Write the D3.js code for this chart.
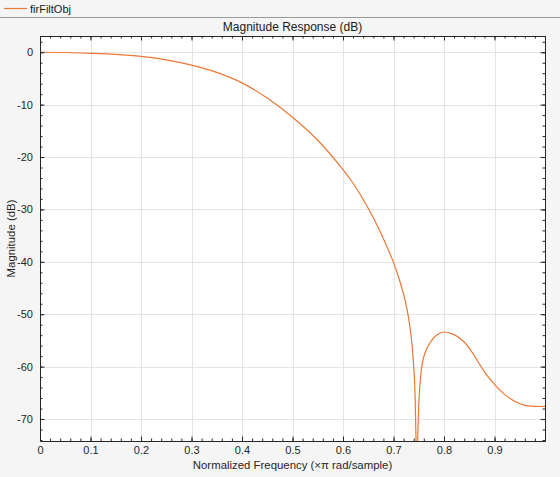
<!DOCTYPE html>
<html><head><meta charset="utf-8">
<script src="https://cdn.jsdelivr.net/npm/d3@7"></script>
<style>
html,body{margin:0;padding:0;background:#f5f5f5;}
svg{display:block;font-family:"Liberation Sans",Arial,Helvetica,sans-serif;}
</style></head>
<body>
<svg id="chart" width="560" height="477"></svg>
<script>
const seriesName = "firFiltObj";
const titleText = "Magnitude Response (dB)";
const xLabel = "Normalized Frequency (\u00d7\u03c0 rad/sample)";
const yLabel = "Magnitude (dB)";
const xTicks = [0, 0.1, 0.2, 0.3, 0.4, 0.5, 0.6, 0.7, 0.8, 0.9];
const xTickLabels = ["0", "0.1", "0.2", "0.3", "0.4", "0.5", "0.6", "0.7", "0.8", "0.9"];
const yTicks = [0, -10, -20, -30, -40, -50, -60, -70];
const yTickLabels = ["0", "-10", "-20", "-30", "-40", "-50", "-60", "-70"];
const freq = [0, 0.05, 0.1, 0.15, 0.2, 0.25, 0.3, 0.35, 0.4, 0.45, 0.5, 0.55, 0.6, 0.62, 0.64, 0.66, 0.68, 0.69, 0.7, 0.71, 0.72, 0.726, 0.73, 0.735, 0.738, 0.741, 0.743, 0.745, 0.746, 0.747, 0.749, 0.752, 0.756, 0.762, 0.772, 0.785, 0.8, 0.82, 0.84, 0.86, 0.88, 0.9, 0.92, 0.94, 0.96, 0.98, 1.0];
const magDb = [0, -0.05, -0.2, -0.42, -0.8, -1.45, -2.45, -3.85, -5.85, -8.75, -12.4, -16.8, -22.4, -25.0, -28.1, -31.6, -35.6, -37.8, -40.1, -42.9, -46.2, -48.7, -50.8, -54.2, -57.3, -61.6, -66.3, -76.0, -95.0, -80.0, -70.0, -64.0, -60.0, -57.5, -55.5, -54.0, -53.4, -53.9, -55.3, -57.9, -61.0, -63.4, -65.3, -66.6, -67.4, -67.6, -67.6];

const svg = d3.select("#chart");
const W = 560, H = 477;
const L = 40, R = 545, T = 36, B = 441;
const lineColor = "#eb7835";
const axisColor = "#262626";

// legend bar
svg.append("rect").attr("x",0).attr("y",0).attr("width",W).attr("height",17).attr("fill","#f5f5f5");
svg.append("line").attr("x1",0).attr("x2",W).attr("y1",17.5).attr("y2",17.5).attr("stroke","#9a9a9a").attr("stroke-width",1);
svg.append("line").attr("x1",4).attr("x2",27).attr("y1",8.5).attr("y2",8.5).attr("stroke",lineColor).attr("stroke-width",1.2);
svg.append("text").attr("x",30).attr("y",12.5).attr("font-size",11).attr("fill","#1a1a1a").text(seriesName);

const x = d3.scaleLinear().domain([0,1]).range([L,R]);
const y = d3.scaleLinear().domain([-74.2,3.1]).range([B,T]);

svg.append("rect").attr("x",L).attr("y",T).attr("width",R-L).attr("height",B-T).attr("fill","#ffffff");

// grid
const g = svg.append("g");
g.selectAll(".vg").data(xTicks.slice(1)).join("line")
  .attr("x1",d=>Math.round(x(d))+0.5).attr("x2",d=>Math.round(x(d))+0.5)
  .attr("y1",T).attr("y2",B).attr("stroke","#e5e5e5").attr("stroke-width",1);
g.selectAll(".hg").data(yTicks).join("line")
  .attr("y1",d=>Math.round(y(d))+0.5).attr("y2",d=>Math.round(y(d))+0.5)
  .attr("x1",L).attr("x2",R).attr("stroke","#e5e5e5").attr("stroke-width",1);

// curve
svg.append("clipPath").attr("id","clip").append("rect").attr("x",L).attr("y",T).attr("width",R-L).attr("height",B-T);
const pts = freq.map((f,i)=>[f,magDb[i]]);
svg.append("path").datum(pts).attr("clip-path","url(#clip)")
  .attr("fill","none").attr("stroke",lineColor).attr("stroke-width",1.2)
  .attr("d", d3.line().x(d=>x(d[0])).y(d=>y(d[1])).curve(d3.curveCatmullRom.alpha(0.5)));

// axes (inward ticks, box)
const xMinor = d3.range(0, 1.0001, 0.02);
const yMinor = d3.range(-74, 3.1, 2);
function addAxis(axisGen, tx, ty, showLabels){
  const a = svg.append("g").attr("transform",`translate(${tx},${ty})`).call(axisGen);
  a.select(".domain").attr("stroke",axisColor);
  a.selectAll(".tick line").attr("stroke",axisColor);
  a.selectAll("text").attr("fill","#262626").attr("font-size",11).attr("font-family","'Liberation Sans',Arial,sans-serif");
  if(!showLabels) a.selectAll("text").remove();
  return a;
}
// minor ticks
addAxis(d3.axisBottom(x).tickValues(xMinor).tickSize(-2.5).tickFormat(""), 0, B, false).select(".domain").remove();
addAxis(d3.axisTop(x).tickValues(xMinor).tickSize(-2.5).tickFormat(""), 0, T, false).select(".domain").remove();
addAxis(d3.axisLeft(y).tickValues(yMinor).tickSize(-2.5).tickFormat(""), L, 0, false).select(".domain").remove();
addAxis(d3.axisRight(y).tickValues(yMinor).tickSize(-2.5).tickFormat(""), R, 0, false).select(".domain").remove();
// major
addAxis(d3.axisBottom(x).tickValues(xTicks).tickSizeInner(-4.5).tickSizeOuter(0).tickPadding(5).tickFormat((d,i)=>xTickLabels[i]), 0, B, true);
addAxis(d3.axisTop(x).tickValues(xTicks).tickSizeInner(-4.5).tickSizeOuter(0).tickFormat(""), 0, T, false);
addAxis(d3.axisLeft(y).tickValues(yTicks).tickSizeInner(-4.5).tickSizeOuter(0).tickPadding(7).tickFormat((d,i)=>yTickLabels[i]), L, 0, true);
addAxis(d3.axisRight(y).tickValues(yTicks).tickSizeInner(-4.5).tickSizeOuter(0).tickFormat(""), R, 0, false);

// titles
svg.append("text").attr("x",(L+R)/2).attr("y",31).attr("text-anchor","middle").attr("font-size",12).attr("fill","#1a1a1a").text(titleText);
svg.append("text").attr("x",(L+R)/2).attr("y",469).attr("text-anchor","middle").attr("font-size",11.4).attr("fill","#262626").text(xLabel);
svg.append("text").attr("transform",`translate(15,${(T+B)/2}) rotate(-90)`).attr("text-anchor","middle").attr("font-size",11.4).attr("fill","#262626").text(yLabel);
</script>
</body></html>
